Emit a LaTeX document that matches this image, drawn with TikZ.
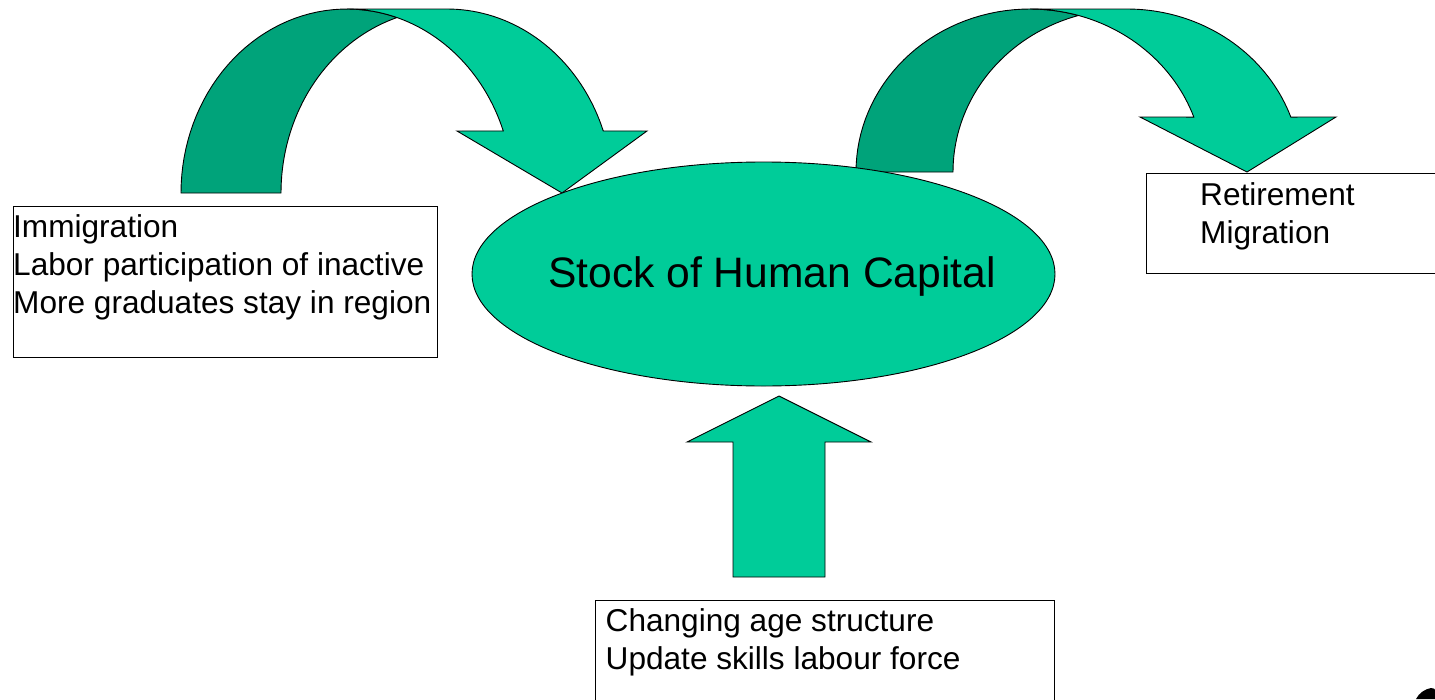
\documentclass[tikz,border=0pt]{standalone}
\usepackage{fontspec}
\setmainfont{Liberation Sans}
\usetikzlibrary{shapes.geometric,calc}
\definecolor{lightgreen}{RGB}{0,204,153}
\definecolor{darkgreen}{RGB}{0,163,122}
\tikzset{
  outlined/.style={draw=black, line width=0.9pt, line join=miter},
  ribbonlight/.style={outlined, fill=lightgreen},
  ribbondark/.style={outlined, fill=darkgreen},
  textbox/.style={draw=black, line width=0.9pt, rectangle, anchor=north west, inner sep=0pt, fill=white},
  boxtext/.style={anchor=north west, inner sep=0pt, align=left, font=\fontsize{31.6}{38}\selectfont},
}
\begin{document}
\begin{tikzpicture}[x=1pt, y=-1pt]
\useasboundingbox (0,0) rectangle (1435,699);

% left curved arrow (into the stock)
\filldraw[ribbondark] (181,193)
  -- plot[domain=180:287.5, samples=40] ({347+166*cos(\x)},{193+184*sin(\x)})
  -- plot[domain=252.5:180, samples=40] ({447+166*cos(\x)},{193+184*sin(\x)})
  -- cycle;
\filldraw[ribbonlight]
  plot[domain=270:340.3, samples=40] ({447+166*cos(\x)},{193+184*sin(\x)})
  -- (647,131) -- (562,193) -- (457,131)
  -- plot[domain=340.3:270, samples=40] ({347+166*cos(\x)},{193+184*sin(\x)})
  -- cycle;

% right curved arrow (out of the stock)
\filldraw[ribbondark] (856,172)
  -- plot[domain=180:286.2, samples=40] ({1030+174*cos(\x)},{172+163*sin(\x)})
  -- plot[domain=253.8:180, samples=40] ({1127+174*cos(\x)},{172+163*sin(\x)})
  -- cycle;
\filldraw[ribbonlight]
  plot[domain=270:340.3, samples=40] ({1127+174*cos(\x)},{172+163*sin(\x)})
  -- (1336,117) -- (1247,172) -- (1140,117)
  -- plot[domain=340.3:270, samples=40] ({1030+174*cos(\x)},{172+163*sin(\x)})
  -- cycle;

% central stock
\node[ellipse, outlined, fill=lightgreen, minimum width=583pt, minimum height=224pt, inner sep=0pt] (stock) at (763.5,274) {};
\node[anchor=base, inner sep=0pt, font=\fontsize{42.6}{50}\selectfont] (stocktext) at (772,287) {Stock of Human Capital};

% up arrow
\filldraw[ribbonlight] (779,396) -- (871,442) -- (825,442) -- (825,577) -- (733,577) -- (733,442) -- (687,442) -- cycle;

% boxes
\node[textbox, minimum width=424pt, minimum height=151pt] (inflow) at (13,206) {};
\node[boxtext] (inflowtext) at ($(inflow.north west)+(0,8.4)$) {Immigration\\Labor participation of inactive\\More graduates stay in region};

\node[textbox, minimum width=300pt, minimum height=100pt] (outflow) at (1146,173) {};
\node[boxtext] (outflowtext) at ($(outflow.north west)+(54,9.4)$) {Retirement\\Migration};

\node[textbox, minimum width=459pt, minimum height=120pt] (change) at (595,600) {};
\node[boxtext] (changetext) at ($(change.north west)+(10.5,8.4)$) {Changing age structure\\Update skills labour force};

% partial logo at the corner
\fill[black] (1416,699) .. controls (1419,693) and (1425,689) .. (1431,688) .. controls (1434,688) and (1435,689) .. (1435,690) -- (1435,699) -- cycle;
\end{tikzpicture}
\end{document}
